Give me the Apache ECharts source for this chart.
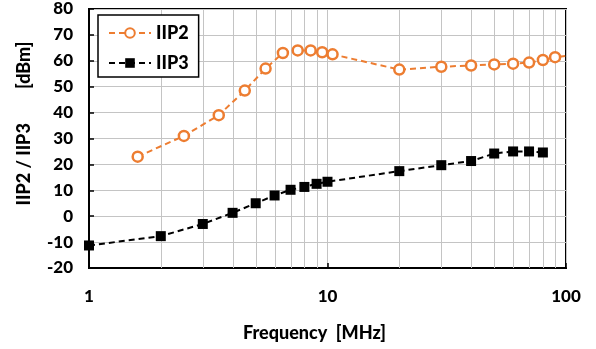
<!DOCTYPE html>
<html>
<head>
<meta charset="utf-8">
<script src="https://cdn.jsdelivr.net/npm/echarts@6/dist/echarts.min.js"></script>
<style>
html,body{margin:0;padding:0;background:#fff;}
#c{width:596px;height:349px;}
</style>
</head>
<body>
<div id="c"></div>
<script>
const iip2Freq = [1.6, 2.5, 3.5, 4.5, 5.5, 6.5, 7.5, 8.5, 9.5, 10.5, 20, 30, 40, 50, 60, 70, 80, 90, 110];
const iip2Vals = [23, 31, 39, 48.5, 57, 63, 64, 64, 63.3, 62.5, 56.6, 57.7, 58.2, 58.6, 58.9, 59.3, 60.3, 61.4, 62.3];
const iip3Freq = [1, 2, 3, 4, 5, 6, 7, 8, 9, 10, 20, 30, 40, 50, 60, 70, 80];
const iip3Vals = [-11.3, -7.7, -3, 1.3, 5, 8, 10.2, 11.3, 12.5, 13.3, 17.4, 19.7, 21.3, 24.2, 25, 25, 24.6];
const yTicks = [-20, -10, 0, 10, 20, 30, 40, 50, 60, 70, 80];
const minorGridFreq = [2,3,4,5,6,7,8,9,20,30,40,50,60,70,80,90];
const yMin = -20, yMax = 80;

const FONT = 'Lato';
const GRID_COLOR = '#c4c4c4';
const pair = (xs, ys) => xs.map((x, i) => [x, ys[i]]);

const chart = echarts.init(document.getElementById('c'), null, {renderer: 'canvas'});
chart.setOption({
  animation: false,
  grid: {left: 89, right: 30, top: 9, bottom: 81, show: true, borderColor: '#000', borderWidth: 2, containLabel: false},
  legend: {
    left: 98, top: 15, orient: 'vertical', z: 10,
    backgroundColor: '#fff', borderColor: '#000', borderWidth: 1.5,
    padding: [9, 10, 5, 10], itemGap: 12,
    itemWidth: 42, itemHeight: 12,
    textStyle: {fontFamily: FONT, fontWeight: 900, fontSize: 18, color: '#000'},
    data: ['IIP2', 'IIP3']
  },
  xAxis: {
    type: 'log', logBase: 10, min: 1, max: 100,
    name: 'Frequency  [MHz]', nameLocation: 'middle', nameGap: 56,
    nameTextStyle: {fontFamily: FONT, fontWeight: 900, fontSize: 18, color: '#000', padding: [0, 26, 0, 0]},
    axisLine: {onZero: false, lineStyle: {color: '#000', width: 2}},
    axisTick: {inside: true, length: 5, lineStyle: {color: '#000', width: 1.5}},
    axisLabel: {fontFamily: FONT, fontWeight: 900, fontSize: 17, color: '#000', margin: 20},
    splitLine: {show: true, lineStyle: {color: GRID_COLOR, width: 1}},
    minorTick: {show: false}
  },
  yAxis: {
    type: 'value', min: yMin, max: yMax, interval: 10,
    name: 'IIP2 / IIP3        [dBm]', nameLocation: 'middle', nameGap: 56,
    nameTextStyle: {fontFamily: FONT, fontWeight: 900, fontSize: 18, color: '#000', padding: [0, 0, 0, 30]},
    axisLine: {show: true, lineStyle: {color: '#000', width: 2}},
    axisTick: {show: true, inside: true, length: 5, lineStyle: {color: '#000', width: 1.5}},
    axisLabel: {fontFamily: FONT, fontWeight: 900, fontSize: 17, color: '#000', margin: 16},
    splitLine: {show: true, lineStyle: {color: GRID_COLOR, width: 1}}
  },
  series: [
    {
      name: 'minorGrid', type: 'custom', z: 2, silent: true, clip: true,
      data: minorGridFreq.map(f => [f, yMin]),
      encode: {x: 0, y: 1},
      renderItem: function (params, api) {
        const f = api.value(0);
        const p1 = api.coord([f, yMin]);
        const p2 = api.coord([f, yMax]);
        const x = Math.round(p1[0]) + 0.5;
        return {
          type: 'line', silent: true,
          shape: {x1: x, y1: p1[1], x2: x, y2: p2[1]},
          style: {stroke: GRID_COLOR, lineWidth: 1}
        };
      }
    },
    {
      name: 'IIP2', type: 'line', data: pair(iip2Freq, iip2Vals), clip: true, z: 6,
      symbol: 'circle', symbolSize: 10,
      itemStyle: {color: '#fff', borderColor: '#ED7D31', borderWidth: 2.5},
      lineStyle: {color: '#ED7D31', width: 2, type: [6, 4]},
      color: '#ED7D31'
    },
    {
      name: 'IIP3', type: 'line', data: pair(iip3Freq, iip3Vals), clip: true, z: 6,
      symbol: 'rect', symbolSize: 10,
      itemStyle: {color: '#000'},
      lineStyle: {color: '#000', width: 2, type: [6, 4]}
    }
  ]
});
</script>
</body>
</html>
